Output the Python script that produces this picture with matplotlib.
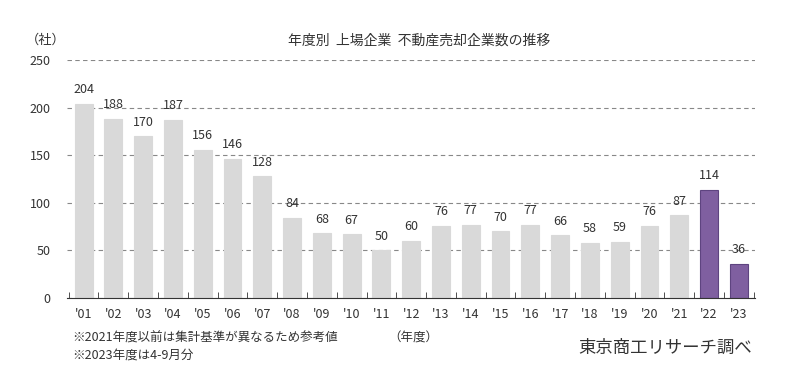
import matplotlib.pyplot as plt

plt.rcParams['font.family'] = ['Noto Sans CJK JP', 'DejaVu Sans']

# データ
years = ["'01", "'02", "'03", "'04", "'05", "'06", "'07", "'08", "'09", "'10", "'11", "'12",
         "'13", "'14", "'15", "'16", "'17", "'18", "'19", "'20", "'21", "'22", "'23"]
counts = [204, 188, 170, 187, 156, 146, 128, 84, 68, 67, 50, 60,
          76, 77, 70, 77, 66, 58, 59, 76, 87, 114, 36]
highlight = ["'22", "'23"]

fig = plt.figure(figsize=(8, 3.68), dpi=100)
ax = fig.add_axes([0.084, 0.19, 0.86, 0.647])

x = list(range(len(years)))
colors = ['#7F5FA0' if y in highlight else '#D9D9D9' for y in years]
edges = ['#5E4480' if y in highlight else '#D9D9D9' for y in years]
ax.bar(x, counts, width=0.6, color=colors, edgecolor=edges, linewidth=0.8, zorder=2)

# 数値ラベル
for xi, v in zip(x, counts):
    ax.text(xi, v + 8, str(v), ha='center', va='bottom', fontsize=9, color='#333333')

ax.set_xlim(-0.55, len(years) - 0.45)
ax.set_ylim(0, 250)
ax.set_yticks([0, 50, 100, 150, 200, 250])
ax.yaxis.grid(True, linestyle=(0, (4, 3)), color='#888888', linewidth=0.8, zorder=0)
ax.tick_params(axis='y', length=0, labelsize=9, labelcolor='#333333', pad=12)

# 目盛り（棒の間）
ax.set_xticks(x)
ax.set_xticklabels(years, fontsize=9, color='#333333')
ax.tick_params(axis='x', which='major', length=0, pad=7)
ax.set_xticks([i - 0.5 for i in range(len(years) + 1)], minor=True)
ax.tick_params(axis='x', which='minor', length=4, direction='in', color='#333333')

for s in ['top', 'right', 'left']:
    ax.spines[s].set_visible(False)
ax.spines['bottom'].set_color('#333333')

fig.text(0.524, 0.89, '年度別  上場企業  不動産売却企業数の推移', ha='center', va='center',
         fontsize=10, color='#333333')
fig.text(0.057, 0.89, '（社）', ha='center', va='center', fontsize=9.5, color='#333333')
fig.text(0.09, 0.082, '※2021年度以前は集計基準が異なるため参考値', ha='left', va='center',
         fontsize=9, color='#333333')
fig.text(0.485, 0.082, '（年度）', ha='left', va='center', fontsize=9, color='#333333')
fig.text(0.09, 0.035, '※2023年度は4-9月分', ha='left', va='center', fontsize=9, color='#333333')
fig.text(0.94, 0.055, '東京商工リサーチ調べ', ha='right', va='center', fontsize=12.5, color='#333333')

fig.savefig('out.png', dpi=100, facecolor='white')
